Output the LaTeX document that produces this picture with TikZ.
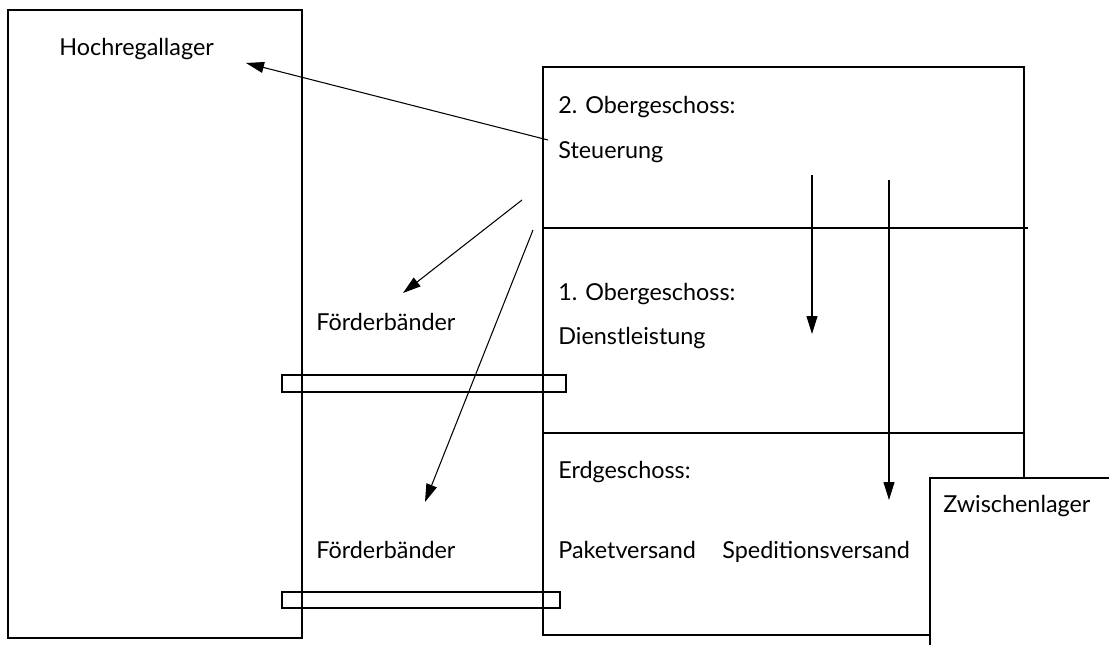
\documentclass[tikz,border=0pt]{standalone}
\usepackage{fontspec}
\setmainfont{Lato}
\usetikzlibrary{arrows.meta,positioning}
\tikzset{%
	wall/.style  = {draw, line width=1.3pt},
	floor/.style = {draw, line width=0.6pt},
	belt/.style  = {draw, line width=1.3pt},
	txt/.style   = {anchor=west, inner sep=0pt, text height=1.7ex, text depth=0.45ex, font=\fontsize{13.3}{15}\selectfont},
	flow/.style  = {line width=0.6pt, -{Triangle[length=3.6mm,width=2.2mm]}},
}
\begin{document}
\begin{tikzpicture}[x=0.02cm, y=-0.02cm]
		\useasboundingbox (0,0) rectangle (1109,645);
		\clip (0,0) rectangle (1109,645);
		% buildings
		\draw[wall] (8,10) rectangle (302,638);
		\draw[wall] (543,67) rectangle (1024,635);
		\draw[floor] (543,228) -- (1028,228);
		\draw[floor] (543,433) -- (1024,433);
		\draw[wall, fill=white] (930,478) rectangle (1140,690);
		% conveyor belts
		\draw[belt] (282,375) rectangle (566,392);
		\draw[belt] (282,592) rectangle (560,608);
		
		\node[txt] (hrl) at (59,50) {Hochregallager};
		\node[txt] (og2) at (558,108) {2. Obergeschoss:};
		\node[txt, below=0.9cm of og2.west, anchor=west] (steuer) {Steuerung};
		\node[txt] (og1) at (558,295) {1. Obergeschoss:};
		\node[txt, below=0.88cm of og1.west, anchor=west] (dienst) {Dienstleistung};
		\node[txt] (eg) at (558,473) {Erdgeschoss:};
		\node[txt] (paket) at (558,553) {Paketversand};
		\node[txt] (spedition) at (722,553) {Speditionsversand};
		\node[txt] (zwischen) at (943,507) {Zwischenlager};
		\node[txt] (band1) at (316,325) {Förderbänder};
		\node[txt] (band2) at (316,553) {Förderbänder};
		
		% arrow ends
		\coordinate (s1) at (548,140);  \coordinate (t1) at (246,63);
		\coordinate (s2) at (522,200);  \coordinate (t2) at (403,293);
		\coordinate (s3) at (533,230);  \coordinate (t3) at (425,502);
		\coordinate (s4) at (812,175);  \coordinate (t4) at (812,334);
		\coordinate (s5) at (889,180);  \coordinate (t5) at (889,500);
		\draw[flow] (s1) -- (t1);
		\draw[flow] (s2) -- (t2);
		\draw[flow] (s3) -- (t3);
		\draw[flow] (s4) -- (t4);
		\draw[flow] (s5) -- (t5);
		\end{tikzpicture}
\end{document}
